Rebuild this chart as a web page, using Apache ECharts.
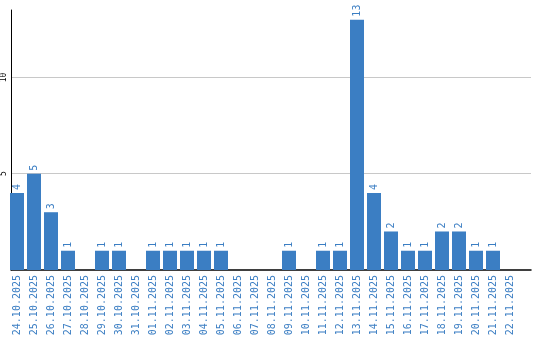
<!DOCTYPE html>
<html><head><meta charset="utf-8">
<script src="https://cdn.jsdelivr.net/npm/echarts@6/dist/echarts.min.js"></script>
<style>html,body{margin:0;padding:0;background:#fff}#c{width:540px;height:340px}</style>
</head><body><div id="c"></div>
<script>
const categories = ['24.10.2025','25.10.2025','26.10.2025','27.10.2025','28.10.2025','29.10.2025','30.10.2025','31.10.2025','01.11.2025','02.11.2025','03.11.2025','04.11.2025','05.11.2025','06.11.2025','07.11.2025','08.11.2025','09.11.2025','10.11.2025','11.11.2025','12.11.2025','13.11.2025','14.11.2025','15.11.2025','16.11.2025','17.11.2025','18.11.2025','19.11.2025','20.11.2025','21.11.2025','22.11.2025'];
const values = [4,5,3,1,0,1,1,0,1,1,1,1,1,0,0,0,1,0,1,1,13,4,2,1,1,2,2,1,1,0];
const yMax = 13.5;
const blue = '#3b7ec3';
const mono = 'DejaVu Sans Mono';

const chart = echarts.init(document.getElementById('c'), null, {renderer:'canvas'});
chart.setOption({
  animation:false,
  grid:[
    {left:8.5, right:21.5, top:10, bottom:70},
    {left:10, right:9, top:10, bottom:70}
  ],
  xAxis:[
    {type:'category', gridIndex:0, data:categories,
     axisLine:{show:false}, axisTick:{show:false},
     axisLabel:{rotate:90, interval:0, margin:5, color:blue, fontFamily:mono, fontSize:10}},
    {type:'value', gridIndex:1, min:0, max:1, axisLine:{show:true, lineStyle:{color:'#000', width:1.5}},
     axisTick:{show:false}, axisLabel:{show:false}, splitLine:{show:false}}
  ],
  yAxis:[
    {type:'value', gridIndex:0, min:0, max:yMax, show:false, splitLine:{show:false}},
    {type:'value', gridIndex:1, min:0, max:yMax, interval:5,
     axisLine:{show:true, lineStyle:{color:'#000', width:1}}, axisTick:{show:false},
     axisLabel:{rotate:90, margin:3, color:'#000', fontFamily:mono, fontSize:8,
       formatter: v => (v===5||v===10) ? String(v) : ''},
     splitLine:{show:true, showMinLine:false, showMaxLine:false, lineStyle:{color:'#c8c8c8', width:1}}}
  ],
  series:[{
    type:'bar', xAxisIndex:0, yAxisIndex:0, data:values.map(v=>v===0?null:v), barWidth:14,
    itemStyle:{color:blue},
    label:{show:true, position:'top', rotate:90, align:'left', verticalAlign:'middle', distance:3,
      color:blue, fontFamily:mono, fontSize:10}
  }]
});
</script></body></html>
